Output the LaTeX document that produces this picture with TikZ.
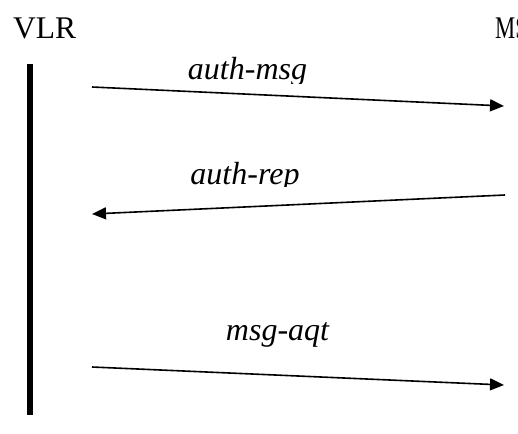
\documentclass[tikz,border=0pt]{standalone}
\usepackage{fontspec}
\setmainfont{Liberation Serif}[ItalicFont={Liberation Serif Italic}]
\usetikzlibrary{arrows.meta}
\begin{document}
\begin{tikzpicture}[x=1pt,y=-1pt,
  party/.style={inner sep=0pt,anchor=base west,font=\fontsize{31.5}{37}\selectfont},
  msglabel/.style={inner sep=0pt,anchor=base,font=\fontsize{32}{38}\selectfont\itshape},
  msgarrow/.style={line width=1.6pt,-{Triangle[length=14pt,width=12pt]}},
  lifeline/.style={line width=6pt}]
\useasboundingbox (0,0) rectangle (518,433);

% parties
\node[party] (vlr) at (13,38.5) {VLR};
\node[party] (ms) at (495,38.5) {\scalebox{0.72}[1]{MS}};

% VLR lifeline
\coordinate (lt) at (30,64);
\coordinate (lb) at (30,415);
\draw[lifeline] (lt) -- (lb);

% message end points
\coordinate (m1s) at (92,87);
\coordinate (m1e) at (504,106);
\coordinate (m2s) at (505,195);
\coordinate (m2e) at (92,214);
\coordinate (m3s) at (92,367);
\coordinate (m3e) at (504,385);

\draw[msgarrow] (m1s) -- (m1e);
\draw[msgarrow] (m2s) -- (m2e);
\draw[msgarrow] (m3s) -- (m3e);

% message labels (the first two are cut off just under the baseline)
\begin{scope}
  \clip (0,0) rectangle (518,83.5);
  \node[msglabel] (l1) at (247.5,80) {auth-msg};
\end{scope}
\begin{scope}
  \clip (0,100) rectangle (518,186.5);
  \node[msglabel] (l2) at (245,184) {auth-rep};
\end{scope}
\node[msglabel] (l3) at (277.5,340) {msg-aqt};
\end{tikzpicture}
\end{document}
